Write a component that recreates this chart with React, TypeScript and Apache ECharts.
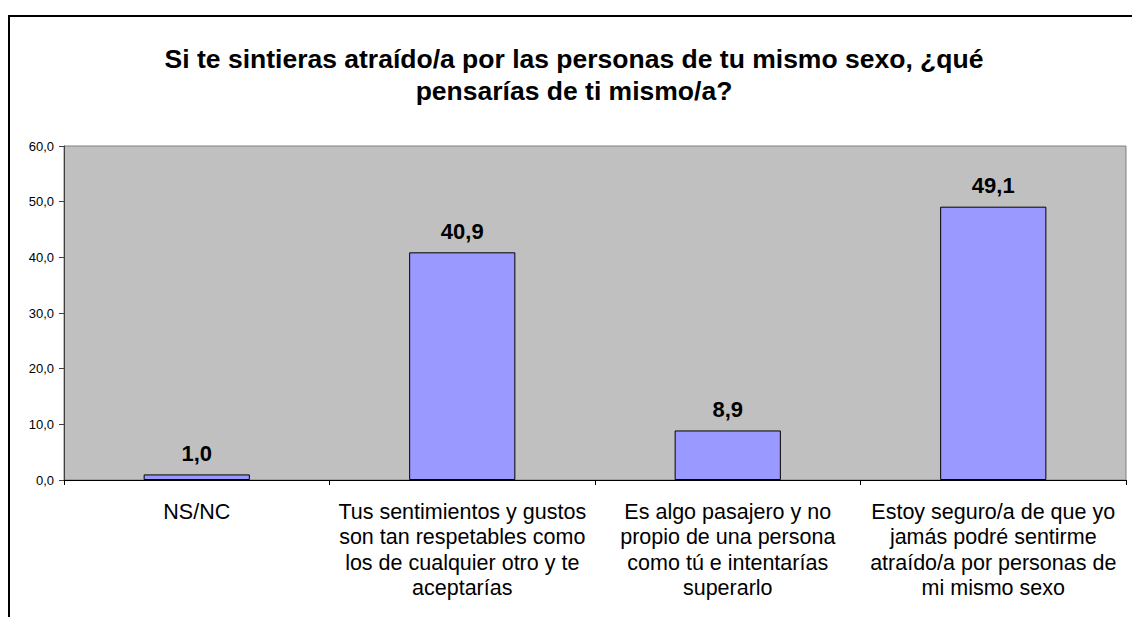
import React, { useEffect, useRef } from "react";
import * as echarts from "echarts";

const titleLines = [
  "Si te sintieras atraído/a por las personas de tu mismo sexo, ¿qué",
  "pensarías de ti mismo/a?",
];
const categories = [
  "NS/NC",
  "Tus sentimientos y gustos\nson tan respetables como\nlos de cualquier otro y te\naceptarías",
  "Es algo pasajero y no\npropio de una persona\ncomo tú e intentarías\nsuperarlo",
  "Estoy seguro/a de que yo\njamás podré sentirme\natraído/a por personas de\nmi mismo sexo",
];
const values = [1.0, 40.9, 8.9, 49.1];
const yTicks = { min: 0, max: 60, interval: 10 };

const FONT = "Arial, 'Liberation Sans', sans-serif";
const fmt = (v: number) => v.toFixed(1).replace(".", ",");

export default function App() {
  const ref = useRef<HTMLDivElement>(null);
  useEffect(() => {
    if (!ref.current) return;
    const chart = echarts.init(ref.current, undefined, { renderer: "svg" });
    chart.setOption({
      animation: false,
      backgroundColor: "#ffffff",
      title: {
        text: titleLines.join("\n"),
        left: 569,
        top: 38,
        textAlign: "center",
        textStyle: {
          fontFamily: FONT,
          fontWeight: "bold",
          fontSize: 26.5,
          lineHeight: 32,
          color: "#000000",
        },
      },
      graphic: [
        {
          type: "polyline",
          shape: { points: [[9, 617], [9, 16], [1132, 16]] },
          style: { stroke: "#000000", lineWidth: 2, fill: "none" },
          z: 100,
        },
      ],
      grid: {
        left: 64,
        top: 146,
        right: 6,
        bottom: 137,
        show: true,
        backgroundColor: "#C0C0C0",
        borderColor: "#808080",
        borderWidth: 1,
      },
      xAxis: {
        type: "category",
        data: categories,
        boundaryGap: true,
        axisLine: { show: true, lineStyle: { color: "#000000", width: 1 } },
        axisTick: {
          show: true,
          interval: 0,
          alignWithLabel: false,
          length: 5,
          lineStyle: { color: "#000000" },
        },
        axisLabel: {
          interval: 0,
          margin: 19,
          fontFamily: FONT,
          fontSize: 21.5,
          lineHeight: 25.5,
          color: "#000000",
          align: "center",
        },
      },
      yAxis: {
        type: "value",
        min: yTicks.min,
        max: yTicks.max,
        interval: yTicks.interval,
        axisLine: { show: true, lineStyle: { color: "#404040", width: 1 } },
        axisTick: { show: true, length: 5, lineStyle: { color: "#404040" } },
        splitLine: { show: false },
        axisLabel: {
          formatter: (v: number) => fmt(v),
          fontFamily: FONT,
          fontSize: 13,
          color: "#000000",
          margin: 10,
        },
      },
      series: [
        {
          type: "bar",
          data: values,
          barWidth: "40%",
          itemStyle: {
            color: "#9999FF",
            borderColor: "#000000",
            borderWidth: 1,
          },
          label: {
            show: true,
            position: "top",
            distance: 10,
            formatter: (p: any) => fmt(p.value),
            fontFamily: FONT,
            fontWeight: "bold",
            fontSize: 22,
            color: "#000000",
          },
        },
      ],
    });
    return () => chart.dispose();
  }, []);
  return (
    <div
      ref={ref}
      style={{ position: "absolute", left: 0, top: 0, width: 1132, height: 617 }}
    />
  );
}
